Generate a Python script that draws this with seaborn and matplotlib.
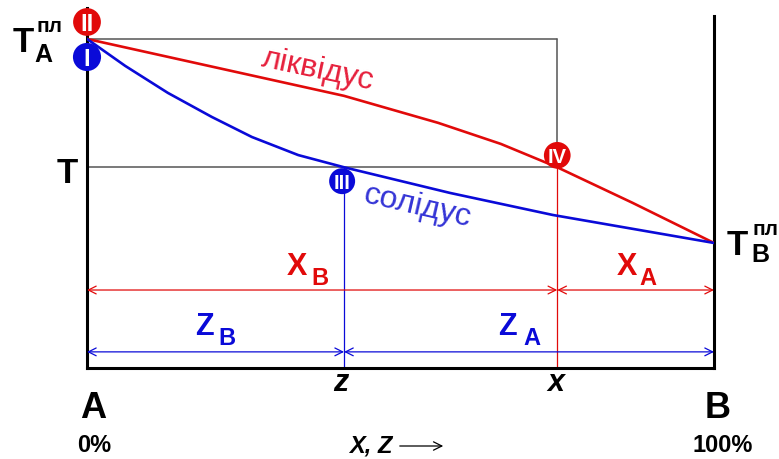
import matplotlib
matplotlib.use("Agg")
import matplotlib.pyplot as plt
import matplotlib.transforms as mtransforms
import seaborn as sns

# Composition of component B (%) and temperature in relative units (T_A = 100)
liquidus_x = [0, 18, 41, 56, 66, 75, 87, 100]
liquidus_t = [100, 92.4, 82.7, 74.5, 68.1, 61, 50.2, 38]
solidus_x = [0, 6.1, 12.9, 19.9, 26.3, 33.7, 41, 57.9, 74.3, 100]
solidus_t = [100, 91.8, 83.6, 76.3, 70.2, 64.7, 61, 53.2, 46.5, 38]

T_A = 100          # melting point of A
T_B = 38           # melting point of B
T_level = 61       # working temperature T
z_comp = 41        # solid composition z
x_comp = 75        # liquid composition x

# Marked states: label, composition, temperature
state_labels = ["II", "I", "III", "IV"]
state_x = [0, 0, z_comp, x_comp]
state_t = [T_A, T_A, T_level, T_level]

RED = "#e10a0a"
BLUE = "#0a0ad8"
GREY = "#555555"

sns.set_style("white")
plt.rcParams["font.family"] = ["Liberation Sans", "DejaVu Sans"]
plt.rcParams["text.color"] = "black"

W, H = 779, 459
fig = plt.figure(figsize=(W / 100, H / 100), dpi=100)
ax = fig.add_axes([87 / W, 1 - 368 / H, (714 - 87) / W, (368 - 8) / H])
ax.set_xlim(0, 100)
ax.set_ylim(0, 109.4)
ax.set_xticks([])
ax.set_yticks([])
for side in ("left", "right", "bottom"):
    ax.spines[side].set_color("black")
    ax.spines[side].set_linewidth(2.2)
ax.spines["top"].set_visible(False)
ax.spines["right"].set_bounds(0, 107)

# guide lines
ax.plot([0, x_comp], [T_A, T_A], color=GREY, lw=1.1, zorder=1)
ax.plot([x_comp, x_comp], [T_A, T_level], color=GREY, lw=1.1, zorder=1)
ax.plot([0, x_comp], [T_level, T_level], color=GREY, lw=1.1, zorder=1)
ax.plot([z_comp, z_comp], [0, T_level], color=BLUE, lw=0.9, zorder=1)
ax.plot([x_comp, x_comp], [0, T_level], color=RED, lw=0.9, zorder=1)

# liquidus and solidus
sns.lineplot(x=liquidus_x, y=liquidus_t, color=RED, lw=1.9, estimator=None, ax=ax, zorder=3)
sns.lineplot(x=solidus_x, y=solidus_t, color=BLUE, lw=1.9, estimator=None, ax=ax, zorder=3)

# lever arms
row_x = 23.7
row_z = 4.9
arrow_style = "<->,head_length=0.7,head_width=0.35"
for (a, b, y, c) in [(0, x_comp, row_x, RED), (x_comp, 100, row_x, RED),
                     (0, z_comp, row_z, BLUE), (z_comp, 100, row_z, BLUE)]:
    ax.annotate("", xy=(a, y), xytext=(b, y),
                arrowprops=dict(arrowstyle=arrow_style, color=c, lw=0.9,
                                shrinkA=0, shrinkB=0, mutation_scale=8))

# state markers
offsets = [(0, 12.2), (0, -13.0), (-1.4, -10.0), (0, 8.6)]
sizes = [400, 410, 350, 370]
colors = [RED, BLUE, BLUE, RED]
fsizes = [17, 17, 14.5, 14.5]
for lab, sx, st, (dx, dy), s, c, fs in zip(state_labels, state_x, state_t,
                                          offsets, sizes, colors, fsizes):
    tr = mtransforms.offset_copy(ax.transData, fig=fig, x=dx, y=dy, units="points")
    ax.scatter([sx], [st], s=s, color=c, edgecolors="none", transform=tr,
               clip_on=False, zorder=5)
    ax.text(sx, st, lab, transform=tr, color="white", fontsize=fs,
            fontweight="bold", ha="center", va="center_baseline", zorder=6,
            clip_on=False)


def ftext(xp, yp, s, **kw):
    kw.setdefault("ha", "center")
    kw.setdefault("va", "baseline")
    kw.setdefault("fontweight", "bold")
    kw.setdefault("color", "black")
    fig.text(xp / W, 1 - yp / H, s, **kw)


# temperature labels
ftext(23.5, 52, "T", fontsize=25)
ftext(49.5, 32, "пл", fontsize=15)
ftext(43.5, 62, "A", fontsize=18)
ftext(67, 183, "T", fontsize=25)
ftext(737, 255, "T", fontsize=25)
ftext(765, 235, "пл", fontsize=15)
ftext(760, 262, "B", fontsize=18)

# curve names
ftext(318, 70, "ліквідус", fontsize=23, fontweight="normal", color="#e6203c",
      rotation=-12, rotation_mode="anchor", va="center")
ftext(417, 207, "солідус", fontsize=23, fontweight="normal", color="#3434d6",
      rotation=-13, rotation_mode="anchor", va="center")

# lever segment labels
ftext(297, 275, "X", fontsize=22, color=RED)
ftext(319.5, 285, "B", fontsize=17, color=RED)
ftext(627, 275, "X", fontsize=22, color=RED)
ftext(648, 285, "A", fontsize=17, color=RED)
ftext(204, 335, "Z", fontsize=22, color=BLUE)
ftext(226.5, 345, "B", fontsize=17, color=BLUE)
ftext(507.5, 335, "Z", fontsize=22, color=BLUE)
ftext(531.5, 345, "A", fontsize=17, color=BLUE)

# composition axis labels
ftext(341, 391, "z", fontsize=22, fontstyle="italic")
ftext(556, 391, "x", fontsize=22, fontstyle="italic")
ftext(93, 418, "A", fontsize=26)
ftext(718, 418, "B", fontsize=26)
ftext(94, 452, "0%", fontsize=17)
ftext(723, 452, "100%", fontsize=17)
ftext(371, 452, "X, Z", fontsize=17, fontstyle="italic")
fig.add_artist(matplotlib.patches.FancyArrowPatch(
    (397 / W, 1 - 446 / H), (446 / W, 1 - 446 / H), transform=fig.transFigure,
    arrowstyle="->,head_length=0.6,head_width=0.3", mutation_scale=10,
    color="black", lw=0.9))

fig.savefig("out.png", dpi=100)
